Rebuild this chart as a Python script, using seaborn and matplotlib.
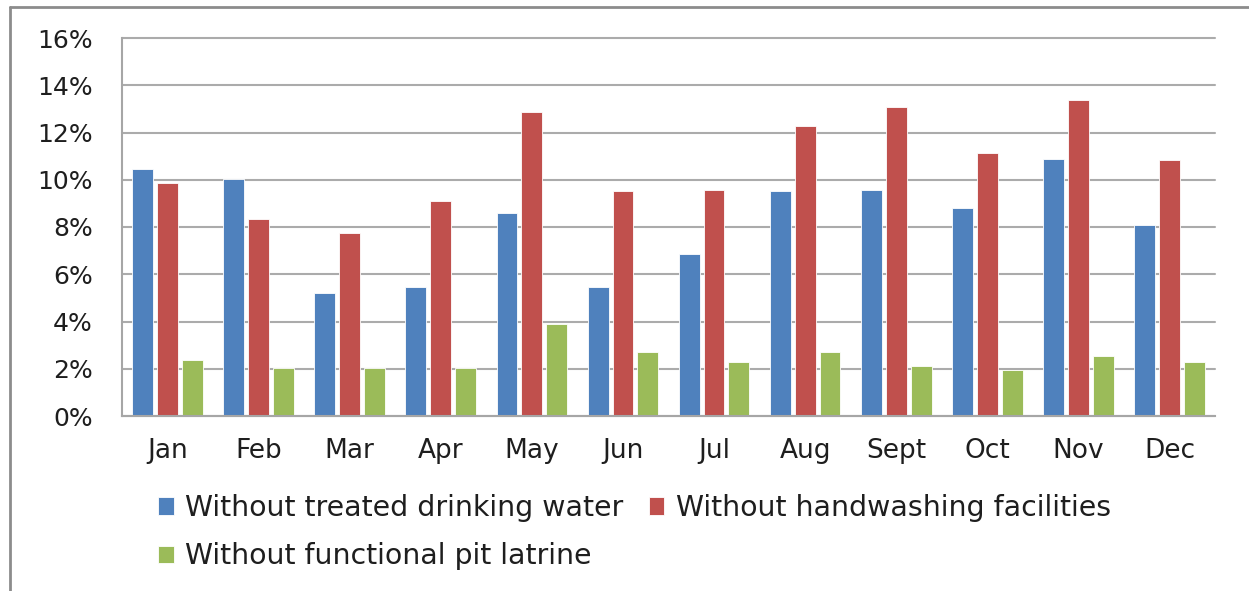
import matplotlib
matplotlib.use("Agg")
import matplotlib.pyplot as plt
import seaborn as sns
import pandas as pd
from matplotlib.lines import Line2D
from matplotlib.ticker import FuncFormatter

months = ["Jan", "Feb", "Mar", "Apr", "May", "Jun", "Jul", "Aug", "Sept", "Oct", "Nov", "Dec"]
series_names = ["Without treated drinking water", "Without handwashing facilities",
                "Without functional pit latrine"]
water = [10.44, 10.05, 5.19, 5.47, 8.58, 5.47, 6.86, 9.51, 9.57, 8.79, 10.89, 8.07]
handwash = [9.85, 8.35, 7.73, 9.11, 12.88, 9.51, 9.57, 12.28, 13.09, 11.12, 13.39, 10.84]
latrine = [2.37, 2.02, 2.05, 2.02, 3.89, 2.72, 2.27, 2.72, 2.10, 1.95, 2.54, 2.27]
y_ticks = [0, 2, 4, 6, 8, 10, 12, 14, 16]
colors = ["#4F81BD", "#C0504D", "#9BBB59"]

rows = []
for name, vals in zip(series_names, [water, handwash, latrine]):
    for m, v in zip(months, vals):
        rows.append({"Month": m, "Series": name, "Value": v})
df = pd.DataFrame(rows)

sns.set_style("white")
plt.rcParams["font.family"] = ["DejaVu Sans"]

fig = plt.figure(figsize=(12.49, 5.91), dpi=100)
ax = fig.add_axes([122 / 1249, 1 - 416 / 591, (1215 - 122) / 1249, (416 - 38) / 591])

sns.barplot(data=df, x="Month", y="Value", hue="Series", order=months,
            hue_order=series_names, palette=colors, saturation=1, width=0.82, gap=0.16,
            edgecolor="white", linewidth=0.6, ax=ax, legend=True)

ax.set_ylim(0, 16)
ax.set_xlim(-0.5, 11.5)
ax.set_yticks(y_ticks)
ax.yaxis.set_major_formatter(FuncFormatter(lambda v, p: f"{int(v)}%"))
ax.grid(axis="y", color="#ABABAB", linewidth=1.5)
for gl in ax.get_ygridlines():
    gl.set_clip_on(False)
ax.set_axisbelow(True)
for s in ["top", "right"]:
    ax.spines[s].set_visible(False)
for s in ["left", "bottom"]:
    ax.spines[s].set_color("#A6A6A6")
    ax.spines[s].set_linewidth(1.5)
ax.tick_params(axis="y", length=0, pad=21, labelsize=18, colors="#1E1E1E")
ax.tick_params(axis="x", length=0, pad=16, labelsize=19, colors="#1E1E1E")
ax.set_xlabel("")
ax.set_ylabel("")

handles, labels = ax.get_legend_handles_labels()
ax.get_legend().remove()
order = [0, 2, 1]
fig.legend([handles[i] for i in order], [labels[i] for i in order],
           ncol=2, loc="upper left", bbox_to_anchor=(158 / 1249, 1 - 494 / 591),
           frameon=False, fontsize=20.4, handlelength=0.55, handleheight=0.55,
           handletextpad=0.4, columnspacing=0.9, labelspacing=0.72,
           borderpad=0, borderaxespad=0, labelcolor="#1E1E1E")

# outer frame
fig.add_artist(Line2D([10 / 1249, 10 / 1249], [0, 1 - 7 / 591], transform=fig.transFigure,
                      color="#8C8C8C", linewidth=2))
fig.add_artist(Line2D([10 / 1249, 1], [1 - 7 / 591, 1 - 7 / 591], transform=fig.transFigure,
                      color="#8C8C8C", linewidth=2))

fig.savefig("out.png", dpi=100)
